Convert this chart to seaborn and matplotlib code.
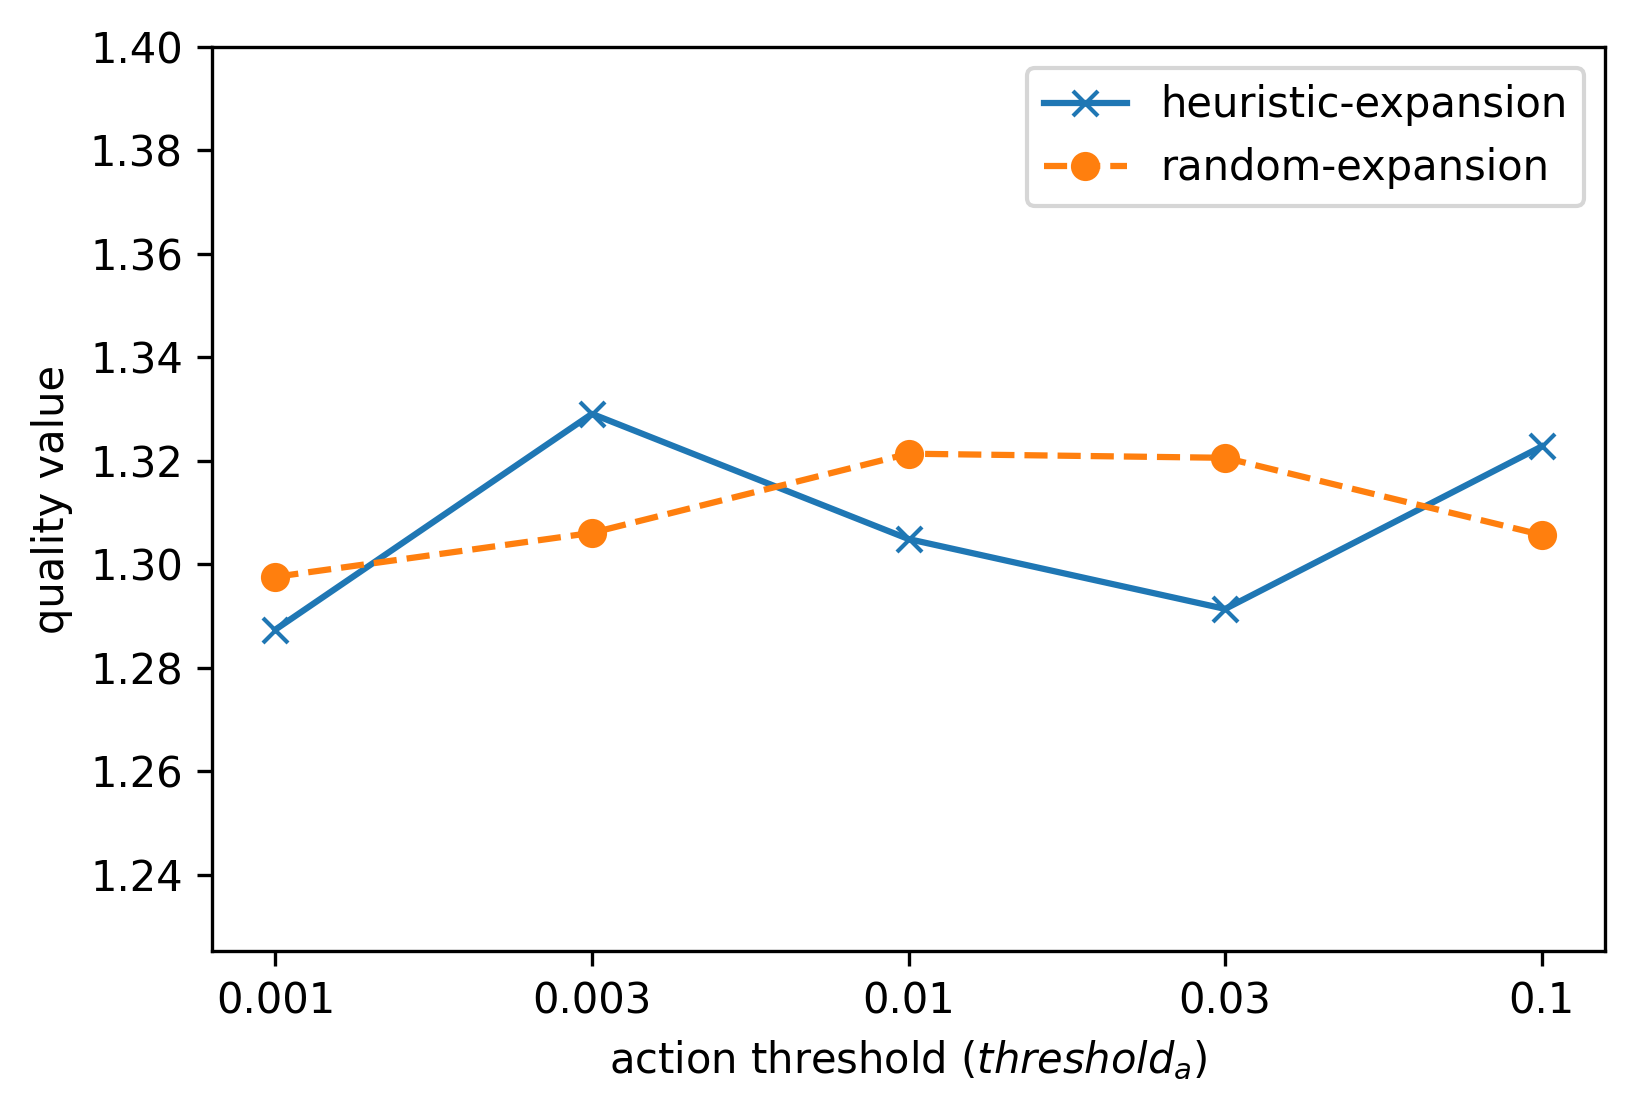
import matplotlib
matplotlib.use("Agg")
import matplotlib.pyplot as plt
import seaborn as sns
import pandas as pd

thresholds = ["0.001", "0.003", "0.01", "0.03", "0.1"]
heuristic = [1.2874, 1.3291, 1.3049, 1.2914, 1.3228]
random_exp = [1.2976, 1.3061, 1.3214, 1.3206, 1.3057]

df = pd.DataFrame({
    "threshold": thresholds,
    "heuristic": heuristic,
    "random": random_exp,
})

fig, ax = plt.subplots(figsize=(5.45, 3.71), dpi=300)
fig.subplots_adjust(left=0.1297, right=0.9817, top=0.9578, bottom=0.1456)

sns.lineplot(data=df, x="threshold", y="heuristic", ax=ax, color="C0",
             marker="x", markersize=6, markeredgewidth=1.0,
             markeredgecolor="C0", linewidth=1.5,
             label="heuristic-expansion")
sns.lineplot(data=df, x="threshold", y="random", ax=ax, color="C1",
             marker="o", markersize=6, linestyle="--", linewidth=1.5,
             markeredgewidth=1.0, markeredgecolor="C1",
             label="random-expansion")

ax.set_ylim(1.2253, 1.40)
ax.set_yticks([1.24, 1.26, 1.28, 1.30, 1.32, 1.34, 1.36, 1.38, 1.40])
ax.set_yticklabels([f"{v:.2f}" for v in ax.get_yticks()])
ax.set_xlabel(r"action threshold ($threshold_a$)")
ax.set_ylabel("quality value")
ax.legend(loc="upper right")

fig.savefig("out.png", dpi=300)
